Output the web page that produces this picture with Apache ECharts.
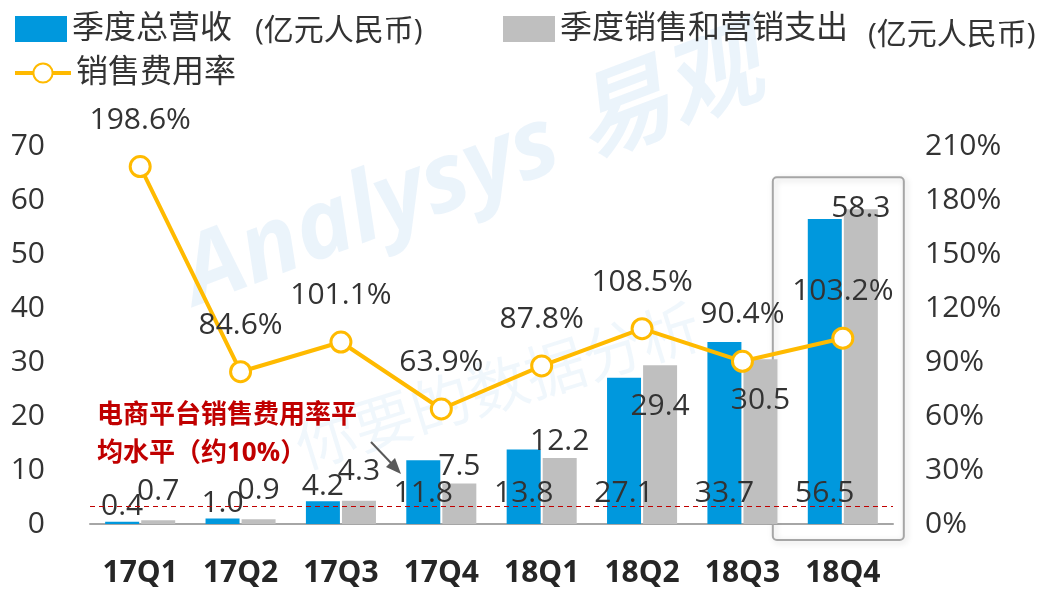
<!DOCTYPE html>
<html>
<head>
<meta charset="utf-8">
<script src="https://cdn.jsdelivr.net/npm/echarts@6/dist/echarts.min.js"></script>
<style>
  html, body { margin: 0; padding: 0; background: #fff; }
  #chart { width: 1051px; height: 591px; }
</style>
</head>
<body>
<div id="chart"></div>
<script>
// Quarterly figures
const quarters = ['17Q1', '17Q2', '17Q3', '17Q4', '18Q1', '18Q2', '18Q3', '18Q4'];
const revenue = [0.4, 1.0, 4.2, 11.8, 13.8, 27.1, 33.7, 56.5];        // 季度总营收 (亿元人民币)
const marketing = [0.7, 0.9, 4.3, 7.5, 12.2, 29.4, 30.5, 58.3];      // 季度销售和营销支出 (亿元人民币)
const expenseRatio = [198.6, 84.6, 101.1, 63.9, 87.8, 108.5, 90.4, 103.2]; // 销售费用率 (%)
const industryAvg = 10; // 电商平台销售费用率平均水平 (%)
const leftTicks = { min: 0, max: 70, interval: 10 };
const rightTicks = { min: 0, max: 210, interval: 30 };

const FONT = "'Open Sans', 'Noto Sans CJK SC', sans-serif";
const TXT = '#333333';
const BLUE = '#0098DD';
const GRAY = '#BFBFBF';
const GOLD = '#FFBA00';

// label placement for the revenue bars: small bars get the value above, others inside near the base
function revenueItem(v) {
  return v < 5
    ? { value: v, label: { position: 'top', distance: 0 } }
    : { value: v, label: { position: 'insideBottom', distance: 16 } };
}
// label placement for the marketing bars
function marketingItem(v) {
  if (v < 5) return { value: v, label: { position: 'top', distance: 14 } };
  if (v < 20) return { value: v, label: { position: 'top', distance: 2 } };
  if (v < 40) return { value: v, label: { position: 'insideTop', distance: 26 } };
  return { value: v, label: { position: 'top', distance: -14 } };
}

const chart = echarts.init(document.getElementById('chart'));

const valueLabel = {
  show: true, fontSize: 30, color: TXT, fontFamily: FONT,
  formatter: p => p.value.toFixed(1)
};

chart.setOption({
  animation: false,
  textStyle: { fontFamily: FONT },
  grid: { left: 90, right: 158, top: 146, bottom: 67 },
  legend: [
    {
      data: [{ name: '季度总营收', icon: 'rect' }], left: 10, top: 8, itemWidth: 52, itemHeight: 26,
      textStyle: { fontSize: 32, color: TXT, fontFamily: FONT }
    },
    {
      data: [{ name: '季度销售和营销支出', icon: 'rect' }], left: 498, top: 8, itemWidth: 52, itemHeight: 26,
      textStyle: { fontSize: 32, color: TXT, fontFamily: FONT }
    },
    {
      data: ['销售费用率'], left: 8, top: 52, itemWidth: 56, itemHeight: 24,
      lineStyle: { width: 4 },
      textStyle: { fontSize: 32, color: TXT, fontFamily: FONT }
    }
  ],
  xAxis: {
    type: 'category',
    data: quarters,
    axisTick: { show: false },
    axisLine: { lineStyle: { color: '#A6A6A6', width: 2 } },
    axisLabel: { fontSize: 30, fontWeight: 'bold', color: '#262626', margin: 34, fontFamily: FONT }
  },
  yAxis: [
    {
      type: 'value', min: leftTicks.min, max: leftTicks.max, interval: leftTicks.interval,
      splitLine: { show: false }, axisLine: { show: false }, axisTick: { show: false },
      axisLabel: { fontSize: 30, color: TXT, margin: 45, fontFamily: FONT }
    },
    {
      type: 'value', min: rightTicks.min, max: rightTicks.max, interval: rightTicks.interval,
      splitLine: { show: false }, axisLine: { show: false }, axisTick: { show: false },
      axisLabel: { fontSize: 30, color: TXT, margin: 32, formatter: '{value}%', fontFamily: FONT }
    }
  ],
  series: [
    {
      name: '季度总营收', type: 'bar', yAxisIndex: 0, barWidth: 34, barGap: '6%',
      itemStyle: { color: BLUE },
      label: valueLabel,
      data: revenue.map(revenueItem)
    },
    {
      name: '季度销售和营销支出', type: 'bar', yAxisIndex: 0, barWidth: 34,
      itemStyle: { color: GRAY },
      label: valueLabel,
      data: marketing.map(marketingItem)
    },
    {
      name: '销售费用率', type: 'line', yAxisIndex: 1, z: 5,
      symbol: 'circle', symbolSize: 20,
      lineStyle: { color: GOLD, width: 4 },
      itemStyle: { color: '#ffffff', borderColor: GOLD, borderWidth: 3 },
      label: {
        show: true, position: 'top', distance: 20, fontSize: 30, color: TXT, fontFamily: FONT,
        formatter: p => p.value.toFixed(1) + '%'
      },
      data: expenseRatio,
      markLine: {
        silent: true, symbol: 'none', label: { show: false },
        lineStyle: { color: '#C00000', type: [5, 4], width: 1 },
        data: [{ yAxis: industryAvg }]
      }
    }
  ]
});

// Overlay: units, annotation, highlight frame and faint brand mark
const x4 = chart.convertToPixel({ xAxisIndex: 0 }, quarters[quarters.length - 1]);
const yTop = chart.convertToPixel({ yAxisIndex: 0 }, Math.max(...marketing));
const yBase = chart.convertToPixel({ yAxisIndex: 0 }, 0);

chart.setOption({
  graphic: [
    {
      type: 'text', left: 170, top: 20, z: -10, rotation: 0.36,
      style: { text: 'Analysys 易观', font: 'italic bold 96px ' + FONT, fill: 'rgba(0,120,200,0.08)' }
    },
    {
      type: 'text', left: 290, top: 300, z: -10, rotation: 0.3,
      style: { text: '你要的数据分析', font: '60px ' + FONT, fill: 'rgba(0,120,200,0.06)' }
    },
    {
      type: 'text', left: 255, top: 16,
      style: { text: '(亿元人民币)', font: '30px ' + FONT, fill: TXT }
    },
    {
      type: 'text', left: 868, top: 20,
      style: { text: '(亿元人民币)', font: '30px ' + FONT, fill: TXT }
    },
    {
      type: 'text', left: 97, top: 397,
      style: {
        text: '电商平台销售费用率平\n均水平（约10%）',
        font: 'bold 26px ' + FONT, fill: '#C00000', lineHeight: 38
      }
    },
    {
      type: 'line', z: 20,
      shape: { x1: 371, y1: 442, x2: 392, y2: 464 },
      style: { stroke: '#595959', lineWidth: 2 }
    },
    {
      type: 'polygon', z: 20,
      shape: { points: [[401, 474], [386, 467], [395, 458]] },
      style: { fill: '#595959' }
    },
    {
      type: 'rect', z: 1,
      shape: { x: x4 - 70, y: yTop - 32, width: 131, height: yBase - yTop + 48, r: 4 },
      style: {
        fill: 'none', stroke: '#A6A6A6', lineWidth: 2,
        shadowBlur: 6, shadowColor: 'rgba(0,0,0,0.18)', shadowOffsetX: 2, shadowOffsetY: 2
      }
    }
  ]
});
</script>
</body>
</html>
